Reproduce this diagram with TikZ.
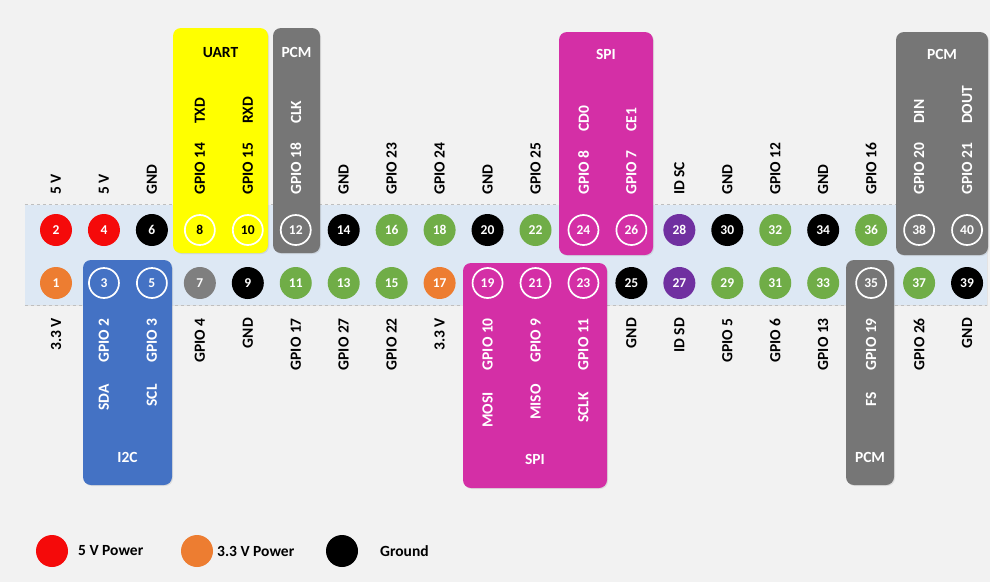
\documentclass[tikz,border=0pt]{standalone}
\usepackage{fontspec}
\setmainfont{Carlito}
\usetikzlibrary{shadows}
\definecolor{bgc}{HTML}{F2F2F2}
\definecolor{bandc}{HTML}{DDE8F4}
\definecolor{redc}{HTML}{F50A0A}
\definecolor{orangec}{HTML}{ED7D31}
\definecolor{greenc}{HTML}{70AD47}
\definecolor{purplec}{HTML}{7030A0}
\definecolor{grayc}{HTML}{7F7F7F}
\definecolor{boxgray}{HTML}{767676}
\definecolor{bluec}{HTML}{4472C4}
\definecolor{magc}{HTML}{D42FA6}
\definecolor{yelc}{HTML}{FFFF00}
\tikzset{
  pinbase/.style={circle, minimum size=32pt, inner sep=0pt, text=white,
    font=\bfseries\fontsize{13.5}{14}\selectfont},
  pr/.style={pinbase, fill=redc},
  po/.style={pinbase, fill=orangec},
  pk/.style={pinbase, fill=black},
  pg/.style={pinbase, fill=grayc},
  pgr/.style={pinbase, fill=greenc},
  pp/.style={pinbase, fill=purplec},
  ring/.style={pinbase, draw=white, line width=1.7pt, minimum size=30pt},
  ringk/.style={ring, text=black},
  lab/.style={rotate=90, inner sep=0pt, text=black},
  labw/.style={lab, text=white},
  grp/.style={rounded corners=8pt, fill=#1, inner sep=0pt,
    drop shadow={opacity=0.18, shadow xshift=1pt, shadow yshift=-1pt}},
  ttl/.style={inner sep=0pt, text=white},
  legdot/.style={circle, minimum size=32pt, inner sep=0pt, fill=#1},
  legtxt/.style={inner sep=0pt, anchor=west, text=black}
}
\begin{document}
\begin{tikzpicture}[x=1pt, y=-1pt, font=\bfseries\fontsize{15.5}{17}\selectfont]
\useasboundingbox (0,0) rectangle (990,582);
\fill[bgc] (0,0) rectangle (990,582);

% band
\node[fill=bandc, minimum width=962pt, minimum height=100pt, inner sep=0pt,
  drop shadow={opacity=0.12, shadow xshift=1pt, shadow yshift=-1pt}] (band) at (506,255) {};
\draw[dashed, black!25, line width=0.8pt] (band.north west) -- (band.north east);
\draw[dashed, black!25, line width=0.8pt] (band.south west) -- (band.south east);

% group boxes
\node[grp=yelc, minimum width=95pt, minimum height=225pt] (uart) at (220.5,140.5) {};
\node[grp=boxgray, minimum width=47pt, minimum height=225pt] (pcma) at (296.5,140.5) {};
\node[grp=magc, minimum width=94pt, minimum height=223pt] (spia) at (606,143.5) {};
\node[grp=boxgray, minimum width=92pt, minimum height=223pt] (pcmb) at (942,143.5) {};
\node[grp=bluec, minimum width=89pt, minimum height=225pt] (i2c) at (127.5,372.5) {};
\node[grp=magc, minimum width=144pt, minimum height=225pt] (spib) at (535,375.5) {};
\node[grp=boxgray, minimum width=48pt, minimum height=225pt] (pcmc) at (870,372.5) {};

\node[ttl, text=black] (tuart) at ([yshift=-25pt]uart.north) {UART};
\node[ttl] (tpcma) at ([yshift=-25pt]pcma.north) {PCM};
\node[ttl] (tspia) at ([yshift=-23pt]spia.north) {SPI};
\node[ttl] (tpcmb) at ([yshift=-23pt]pcmb.north) {PCM};
\node[ttl] (ti2c) at ([yshift=28pt]i2c.south) {I2C};
\node[ttl] (tspib) at ([yshift=29pt]spib.south) {SPI};
\node[ttl] (tpcmc) at ([yshift=28pt]pcmc.south) {PCM};

% pins
\foreach \n/\st in {1/po,2/pr,3/ring,4/pr,5/ring,6/pk,7/pg,8/ringk,9/pk,10/ringk,
  11/pgr,12/ring,13/pgr,14/pk,15/pgr,16/pgr,17/po,18/pgr,19/ring,20/pk,
  21/ring,22/pgr,23/ring,24/ring,25/pk,26/ring,27/pp,28/pp,29/pgr,30/pk,
  31/pgr,32/pgr,33/pgr,34/pk,35/ring,36/pgr,37/pgr,38/ring,39/pk,40/ring}{
  \pgfmathtruncatemacro\col{int((\n-1)/2)}
  \pgfmathsetmacro\xx{56+47.95*\col}
  \pgfmathsetmacro\yy{ifthenelse(mod(\n,2)==0,230,283)}
  \node[\st] (p\n) at (\xx,\yy) {\n};
}

% top labels
\foreach \n/\t in {2/5 V,4/5 V,6/GND,14/GND,16/GPIO 23,18/GPIO 24,20/GND,22/GPIO 25,
  28/ID SC,30/GND,32/GPIO 12,34/GND,36/GPIO 16}{
  \node[lab, anchor=west] (t\n) at ([yshift=35pt]p\n.center) {\t};
}
\node[lab, anchor=west] (t8) at ([yshift=35pt]p8.center) {GPIO 14\hspace{19pt}TXD};
\node[lab, anchor=west] (t10) at ([yshift=35pt]p10.center) {GPIO 15\hspace{19pt}RXD};
\foreach \n/\a/\b in {12/GPIO 18/CLK,24/GPIO 8/CD0,26/GPIO 7/CE1,38/GPIO 20/DIN,40/GPIO 21/DOUT}{
  \node[labw, anchor=west] (t\n) at ([yshift=35pt]p\n.center) {\a\hspace{19pt}\b};
}

% bottom labels
\foreach \n/\t in {1/3.3 V,7/GPIO 4,9/GND,11/GPIO 17,13/GPIO 27,15/GPIO 22,17/3.3 V,
  25/GND,27/ID SD,29/GPIO 5,31/GPIO 6,33/GPIO 13,37/GPIO 26,39/GND}{
  \node[lab, anchor=east] (b\n) at ([yshift=-35pt]p\n.center) {\t};
}
\foreach \n/\a/\b in {3/GPIO 2/SDA,5/GPIO 3/SCL,19/GPIO 10/MOSI,21/GPIO 9/MISO,
  23/GPIO 11/SCLK,35/GPIO 19/FS}{
  \node[labw, anchor=east] (b\n) at ([yshift=-35pt]p\n.center) {\b\hspace{22pt}\a};
}

% legend
\node[legdot=redc] (l1) at (52,551) {};
\node[legtxt] (lt1) at (78,551) {5 V Power};
\node[legdot=orangec] (l2) at (197,551) {};
\node[legtxt] (lt2) at (217,551) {3.3 V Power};
\node[legdot=black] (l3) at (342,551) {};
\node[legtxt] (lt3) at (380,551) {Ground};
\end{tikzpicture}
\end{document}
